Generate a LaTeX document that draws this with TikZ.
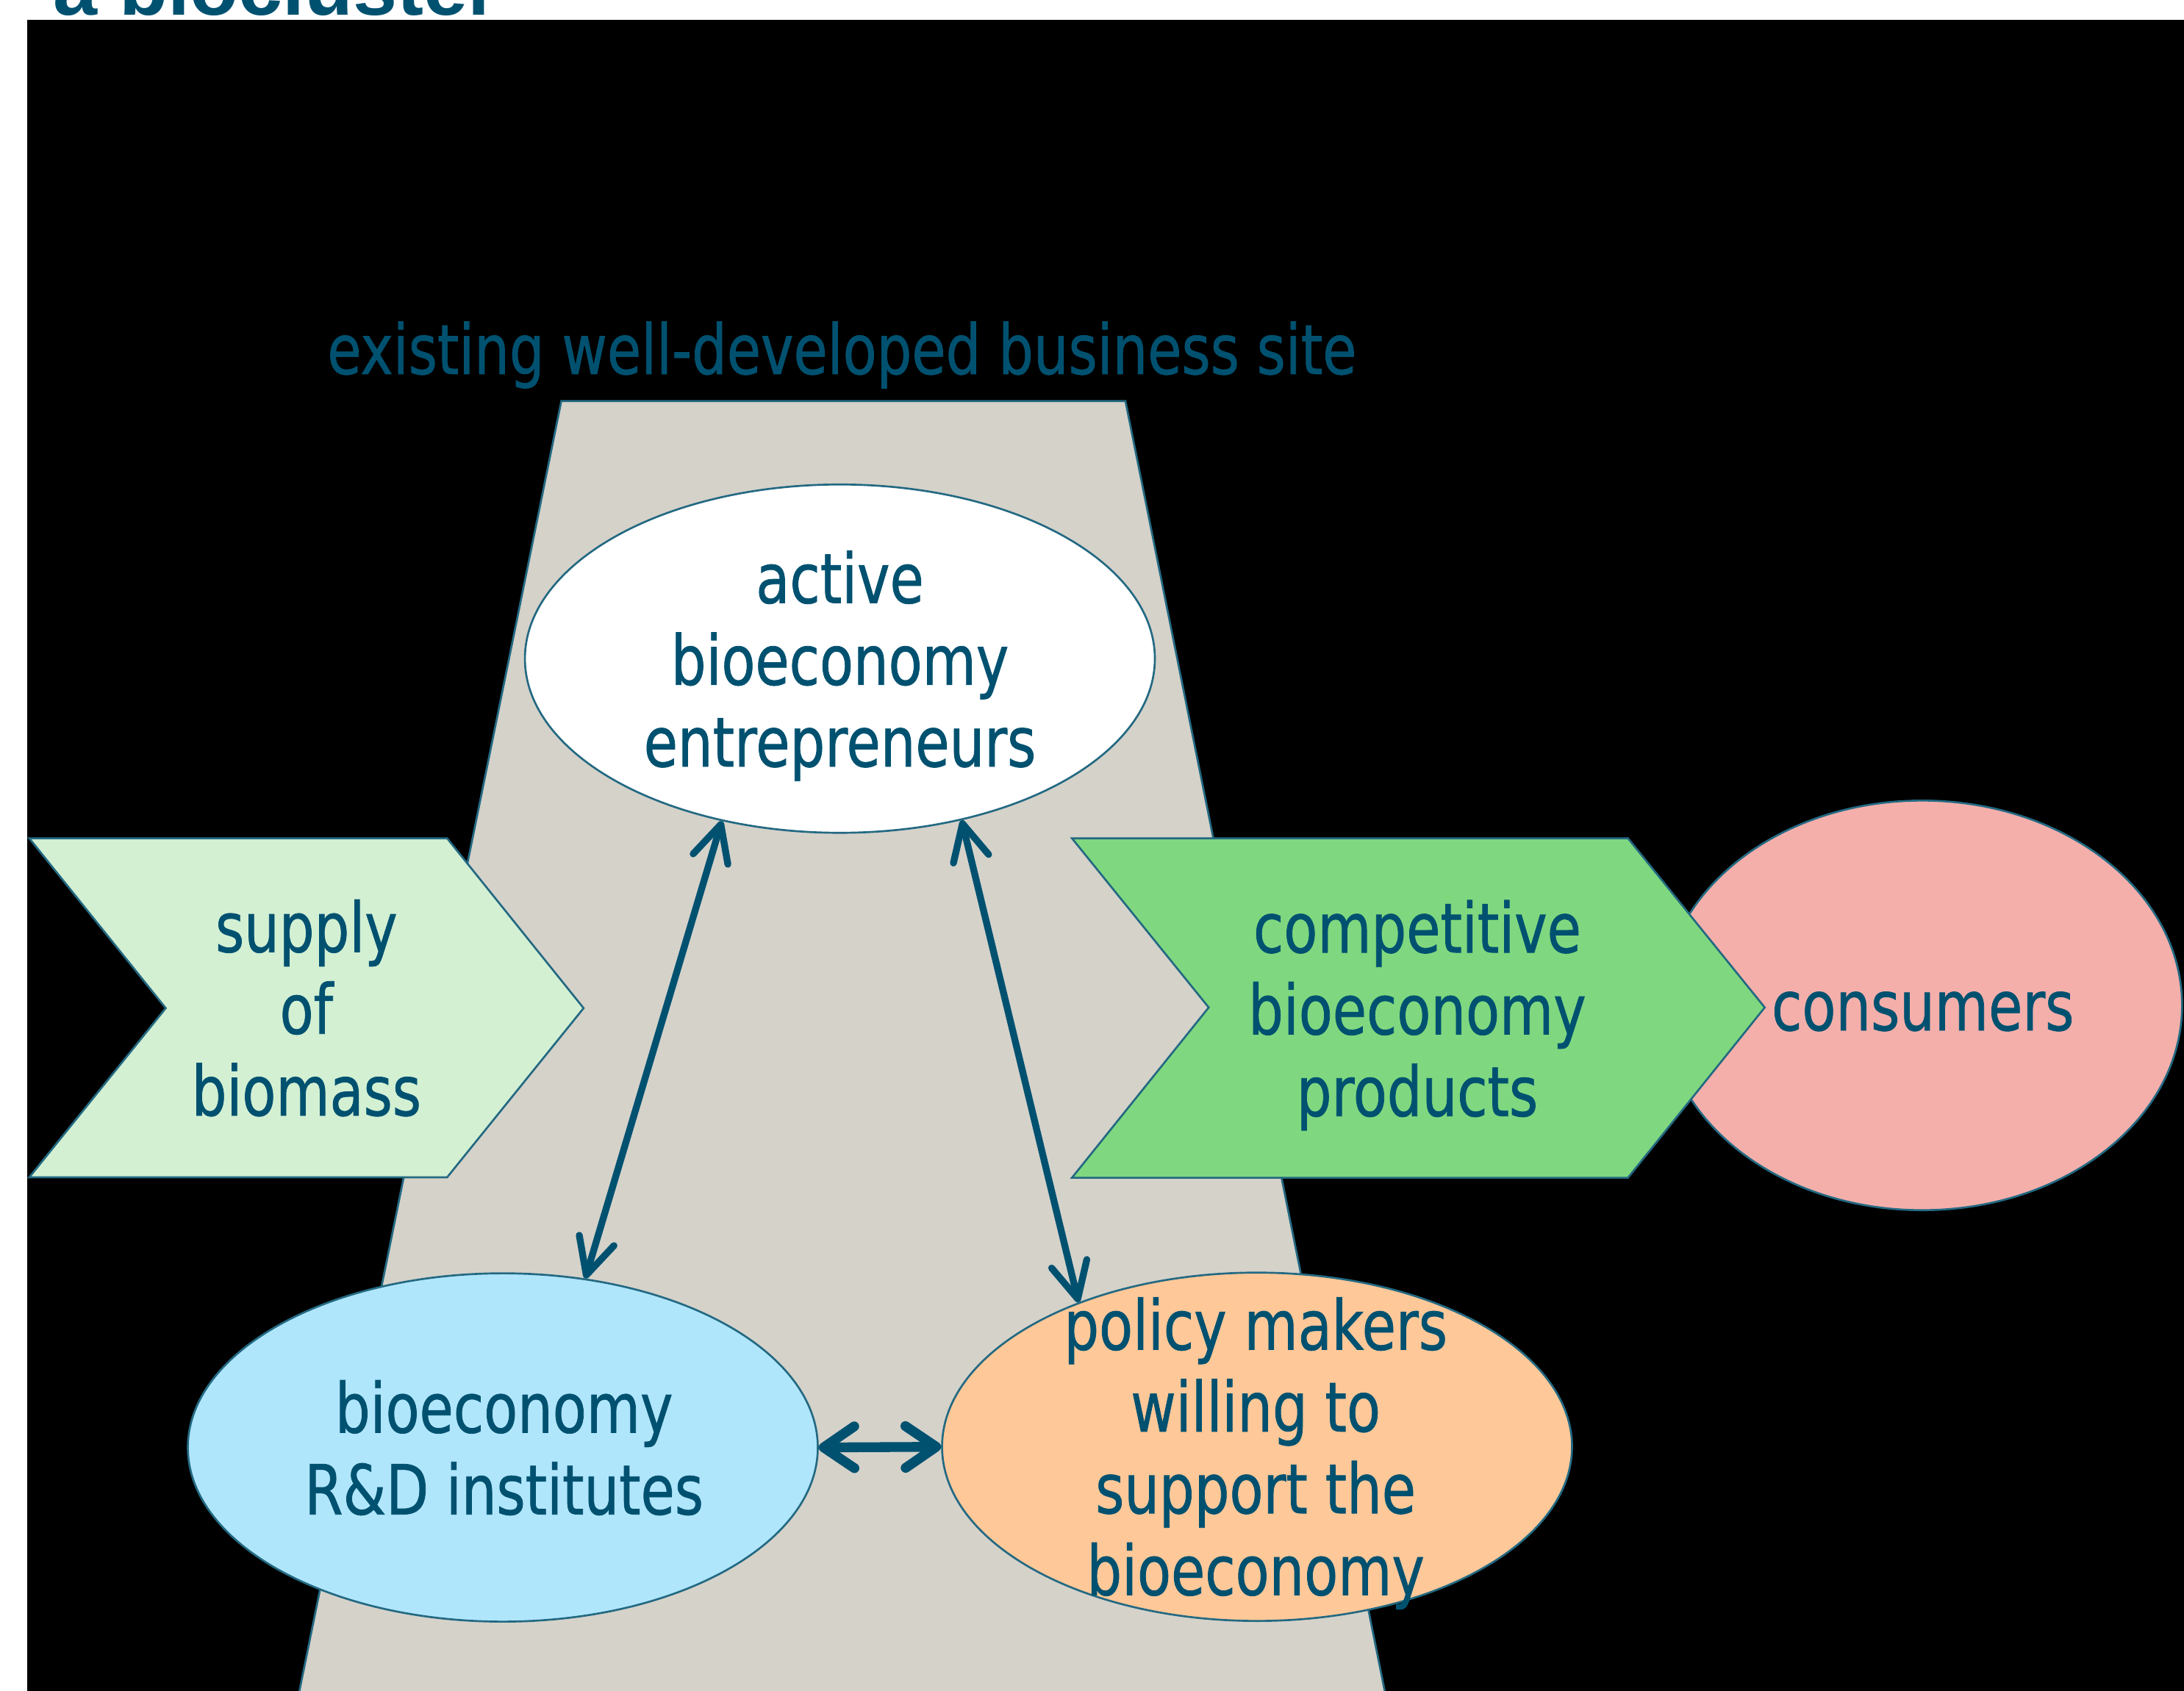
\documentclass[tikz,border=0pt]{standalone}
\usepackage{fontspec}
\usetikzlibrary{shapes.geometric,arrows.meta}
\newfontfamily\dv[FakeStretch=0.8,FakeBold=0.8]{DejaVu Sans}
\newfontfamily\titlefont{Liberation Sans}
\definecolor{tealtxt}{RGB}{0,81,112}
\definecolor{edgec}{RGB}{35,105,130}
\definecolor{trapc}{RGB}{213,210,202}
\definecolor{supc}{RGB}{211,240,211}
\definecolor{compc}{RGB}{127,216,127}
\definecolor{rdc}{RGB}{176,230,252}
\definecolor{polc}{RGB}{254,200,153}
\definecolor{consc}{RGB}{244,175,171}
\begin{document}
\begin{tikzpicture}[x=0.01cm,y=-0.01cm,
  blob/.style={ellipse, draw=edgec, line width=0.4pt, inner sep=0, minimum width=4.52cm, minimum height=2.5cm},
  lbl/.style={font=\dv\fontsize{14.1}{16.7}\selectfont, text=tealtxt, align=center, inner sep=0},
  shp/.style={draw=edgec, line width=0.4pt, line join=miter},
  arr/.style={draw=tealtxt, line width=1.4pt, line cap=round, >={Straight Barb[length=0.26cm,width=0.26cm,round]}, <->},
]
\useasboundingbox (0,0) rectangle (1568,1214);
\clip (0,0) rectangle (1568,1214);
\fill[black] (19.5,14.1) rectangle (1575,1220);
\path[shp, fill=trapc] (403,288) -- (808,288) -- (997.3,1230) -- (211.8,1230) -- cycle;
\node[lbl, anchor=base] (siteT) at (604.5,268.6) {existing well-developed business site};
\node[blob, fill=white] (ent) at (603,473) {};
\node[blob, fill=rdc] (rd) at (361,1039.5) {};
\node[blob, fill=polc] (pol) at (902.5,1039) {};
\node[ellipse, draw=edgec, line width=0.4pt, inner sep=0, minimum width=3.73cm, minimum height=2.94cm, fill=consc] (cons) at (1380,722) {};
\path[shp, fill=supc] (21,602) -- (321,602) -- (419,724) -- (321,845.5) -- (21,845.5) -- (119,724) -- cycle;
\path[shp, fill=compc] (769.6,602) -- (1168.8,602) -- (1267,723.5) -- (1168.8,845.8) -- (769.6,845.8) -- (867.8,723.5) -- cycle;
\draw[arr] (ent.234) -- (rd.64);
\draw[arr] (ent.307) -- (pol.141);
\draw[arr, line width=2pt, >={Straight Barb[length=0.22cm,width=0.3cm,round]}] (rd.east) -- (pol.west);
\node[lbl] (entT) at (603,478.1) {active\\bioeconomy\\entrepreneurs};
\node[lbl] (supT) at (220,723.9) {supply\\of\\biomass};
\node[lbl] (compT) at (1017.5,729.1) {competitive\\bioeconomy\\products};
\node[lbl] (consT) at (1380.5,726.4) {consumers};
\node[lbl] (rdT) at (361.9,1039.7) {bioeconomy\\R\&D institutes};
\node[lbl] (polT) at (901.5,1043.7) {policy makers\\willing to\\support the\\bioeconomy};
\node[font=\titlefont\bfseries\fontsize{16.2}{19}\selectfont, text=tealtxt, anchor=base west, inner sep=0] (title) at (37.6,10.6) {a biocluster};
\end{tikzpicture}
\end{document}
